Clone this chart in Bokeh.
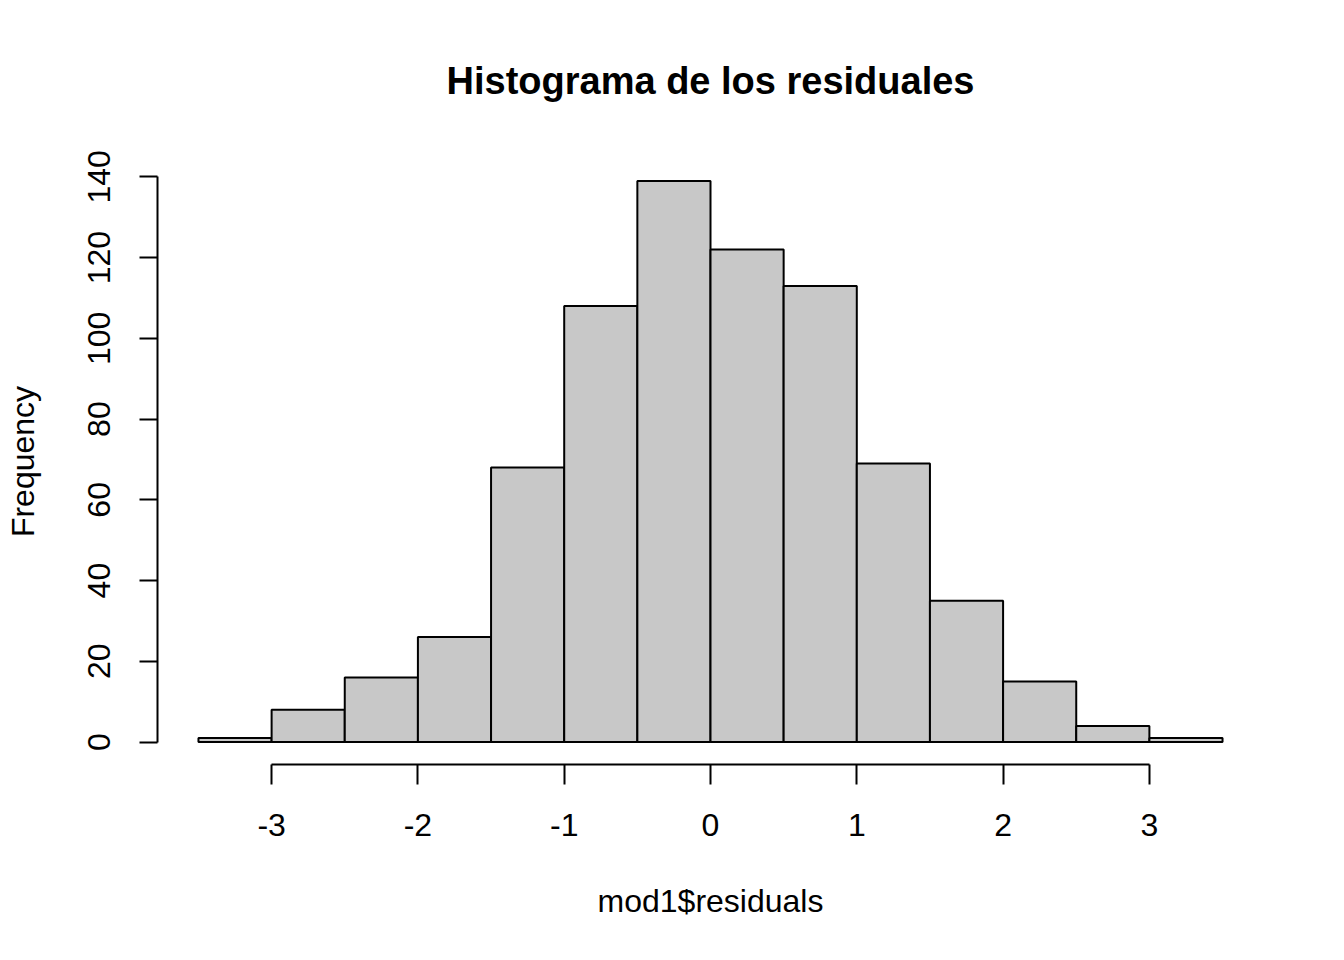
import math
from bokeh.plotting import figure
from bokeh.models import FixedTicker
from bokeh.embed import file_html
from bokeh.resources import INLINE

# Histogram data
bin_edges = [-3.5, -3.0, -2.5, -2.0, -1.5, -1.0, -0.5, 0.0, 0.5, 1.0, 1.5, 2.0, 2.5, 3.0, 3.5]
counts = [1, 8, 16, 26, 68, 108, 139, 122, 113, 69, 35, 15, 4, 1]
x_ticks = [-3, -2, -1, 0, 1, 2, 3]
y_ticks = [0, 20, 40, 60, 80, 100, 120, 140]

title_text = "Histograma de los residuales"
x_label = "mod1$residuals"
y_label = "Frequency"

FONT = "Liberation Sans"

xpad = 0.04 * (bin_edges[-1] - bin_edges[0])
ypad = 0.04 * max(counts)

p = figure(
    width=1328, height=944,
    x_range=(bin_edges[0] - xpad, bin_edges[-1] + xpad),
    y_range=(-ypad, max(counts) + ypad),
    output_backend="svg", toolbar_location=None,
    min_border_left=157, min_border_right=65,
    min_border_top=157, min_border_bottom=180,
)

p.quad(left=bin_edges[:-1], right=bin_edges[1:], top=counts, bottom=0,
       fill_color="#C8C8C8", line_color="black", line_width=2)

p.title.text = title_text
p.title.align = "center"
p.title.text_font = FONT
p.title.text_font_size = "38px"
p.title.text_font_style = "bold"
p.title.text_color = "black"
p.title.standoff = 114

p.grid.visible = False
p.outline_line_color = None
p.background_fill_color = "white"
p.border_fill_color = "white"

for ax in (p.xaxis[0], p.yaxis[0]):
    ax.axis_line_color = "black"
    ax.axis_line_width = 2
    ax.major_tick_line_color = "black"
    ax.major_tick_line_width = 2
    ax.minor_tick_line_color = None
    ax.major_tick_in = 0
    ax.major_label_text_font = FONT
    ax.major_label_text_font_size = "32px"
    ax.major_label_text_color = "black"
    ax.axis_label_text_font = FONT
    ax.axis_label_text_font_size = "32px"
    ax.axis_label_text_font_style = "normal"
    ax.axis_label_text_color = "black"

xa = p.xaxis[0]
xa.ticker = FixedTicker(ticks=x_ticks)
xa.bounds = (x_ticks[0], x_ticks[-1])
xa.major_label_overrides = {t: str(t) for t in x_ticks}
xa.major_tick_out = 20
xa.major_label_standoff = 29
xa.axis_label = x_label
xa.axis_label_standoff = 44

ya = p.yaxis[0]
ya.ticker = FixedTicker(ticks=y_ticks)
ya.bounds = (y_ticks[0], y_ticks[-1])
ya.major_label_overrides = {t: str(t) for t in y_ticks}
ya.major_tick_out = 18
ya.major_label_standoff = 29
ya.major_label_orientation = "parallel"
ya.axis_label = y_label
ya.axis_label_standoff = 45

open("out.html", "w").write(file_html(p, INLINE))
